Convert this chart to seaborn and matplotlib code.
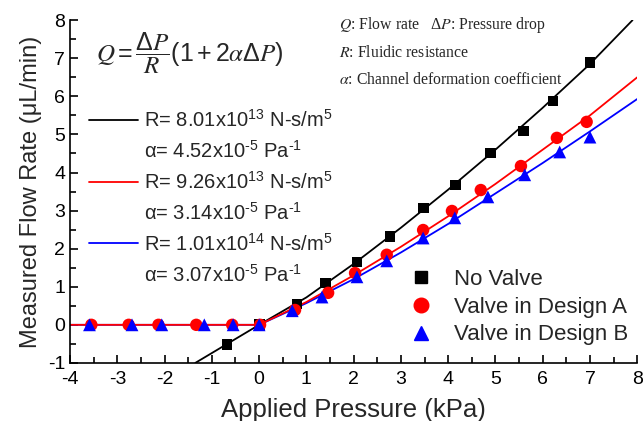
import numpy as np
import pandas as pd
import matplotlib
matplotlib.use("Agg")
import matplotlib.pyplot as plt
import seaborn as sns
from matplotlib.lines import Line2D
from matplotlib.ticker import MultipleLocator

# measured points (kPa, uL/min)
black_x = [-0.68, 0, 0.8, 1.4, 2.07, 2.77, 3.47, 4.16, 4.9, 5.6, 6.22, 7.0]
black_y = [-0.52, 0, 0.55, 1.1, 1.65, 2.31, 3.07, 3.67, 4.51, 5.09, 5.88, 6.88]
red_x = [-3.55, -2.76, -2.13, -1.33, -0.57, 0.02, 0.76, 1.46, 2.03, 2.70, 3.47, 4.08, 4.69, 5.54, 6.30, 6.93]
red_y = [0, 0, 0, 0, 0, 0, 0.39, 0.84, 1.36, 1.84, 2.49, 2.99, 3.54, 4.17, 4.91, 5.33]
blue_x = [-3.59, -2.69, -2.06, -1.16, -0.55, 0, 0.70, 1.33, 2.07, 2.70, 3.47, 4.14, 4.84, 5.62, 6.36, 7.0]
blue_y = [0, 0, 0, 0, 0, 0, 0.37, 0.73, 1.26, 1.68, 2.28, 2.81, 3.36, 3.94, 4.54, 4.93]

# fitted curves
fit_black_x = [-1.35, 0, 1, 2, 3, 4, 5, 6, 7, 7.9]
fit_black_y = [-1.0, 0, 0.72, 1.6, 2.55, 3.55, 4.6, 5.7, 6.85, 8.0]
fit_x = [-4, 0, 1, 2, 3, 4, 5, 6, 7, 8]
fit_red_y = [0, 0, 0.6, 1.3, 2.05, 2.85, 3.7, 4.6, 5.5, 6.5]
fit_blue_y = [0, 0, 0.57, 1.2, 1.9, 2.65, 3.45, 4.25, 5.08, 5.93]

series_names = ["No Valve", "Valve in Design A", "Valve in Design B"]
fit_labels = [
    ("R= 8.01x10$^{13}$ N-s/m$^{5}$", "\u03b1= 4.52x10$^{\u2010 5}$ Pa$^{\u2010 1}$"),
    ("R= 9.26x10$^{13}$ N-s/m$^{5}$", "\u03b1= 3.14x10$^{\u2010 5}$ Pa$^{\u2010 1}$"),
    ("R= 1.01x10$^{14}$ N-s/m$^{5}$", "\u03b1= 3.07x10$^{\u2010 5}$ Pa$^{\u2010 1}$"),
]

sns.set_theme(style="ticks")
plt.rcParams["font.family"] = ["Liberation Sans", "DejaVu Sans"]
plt.rcParams["mathtext.fontset"] = "stix"
plt.rcParams["mathtext.default"] = "regular"
plt.rcParams["axes.unicode_minus"] = False

fig = plt.figure(figsize=(6.43, 4.21), dpi=100)
ax = fig.add_axes([0.109, 0.138, 0.882, 0.814])

colors = ["black", "#ff0000", "#0000ff"]

# fit lines
sns.lineplot(x=fit_black_x, y=fit_black_y, color=colors[0], lw=1.3, ax=ax, sort=False)
sns.lineplot(x=fit_x, y=fit_blue_y, color=colors[2], lw=1.3, ax=ax, sort=False)
sns.lineplot(x=fit_x, y=fit_red_y, color=colors[1], lw=1.3, ax=ax, sort=False)

# measured points
pts = pd.concat([
    pd.DataFrame({"x": black_x, "y": black_y, "s": series_names[0]}),
    pd.DataFrame({"x": red_x, "y": red_y, "s": series_names[1]}),
    pd.DataFrame({"x": blue_x, "y": blue_y, "s": series_names[2]}),
])
markers = {"No Valve": "s", "Valve in Design A": "o", "Valve in Design B": "^"}
sizes = {"No Valve": 60, "Valve in Design A": 80, "Valve in Design B": 85}
for name, c in zip(series_names, colors):
    d = pts[pts["s"] == name]
    sns.scatterplot(data=d, x="x", y="y", color=c, marker=markers[name],
                    s=sizes[name], edgecolor="none", ax=ax, zorder=3)

ax.set_xlim(-4, 8)
ax.set_ylim(-1, 8)
ax.xaxis.set_major_locator(MultipleLocator(1))
ax.xaxis.set_minor_locator(MultipleLocator(0.5))
ax.yaxis.set_major_locator(MultipleLocator(1))
ax.yaxis.set_minor_locator(MultipleLocator(0.5))
ax.tick_params(which="both", direction="in", width=1.2, colors="black", labelsize=14)
ax.tick_params(which="major", length=6)
ax.tick_params(which="minor", length=4)
ax.tick_params(axis="x", pad=6)
for sp in ["top", "right"]:
    ax.spines[sp].set_visible(False)
for sp in ["left", "bottom"]:
    ax.spines[sp].set_linewidth(1.2)
    ax.spines[sp].set_color("black")

ax.set_xlabel("Applied Pressure (kPa)", fontsize=18.5, labelpad=7)
ax.set_ylabel("Measured Flow Rate (\u03bcL/min)", fontsize=17, labelpad=4)

# legend for markers
mk_handles = [Line2D([], [], ls="none", marker=markers[n], color=c,
                     markersize=9 if n == "No Valve" else 10.5)
              for n, c in zip(series_names, colors)]
leg1 = ax.legend(mk_handles, series_names, loc="lower right", bbox_to_anchor=(1.0, 0.025),
                 frameon=False, fontsize=16, handletextpad=0.5, labelspacing=0.3,
                 borderaxespad=0)
ax.add_artist(leg1)

# legend for fits
fit_handles, fit_texts = [], []
for c, (l1, l2) in zip(colors, fit_labels):
    fit_handles += [Line2D([], [], color=c, lw=1.3), Line2D([], [], color="none")]
    fit_texts += [l1, l2]
ax.legend(fit_handles, fit_texts, loc="upper left", bbox_to_anchor=(0.02, 0.765),
          frameon=False, fontsize=14.5, handlelength=2.4, handletextpad=0.3,
          labelspacing=0.45, borderaxespad=0)

# equation and definitions
ax.text(0.045, 0.905, r"$\mathit{Q}=\dfrac{\Delta \mathit{P}}{\mathit{R}}(1+2\mathit{\alpha}\Delta \mathit{P})$",
        transform=ax.transAxes, fontsize=18, va="center", ha="left")
serif = ["Liberation Serif", "DejaVu Serif"]
ax.text(0.475, 0.985, r"$\mathit{Q}$: Flow rate   $\Delta\mathit{P}$: Pressure drop",
        transform=ax.transAxes, fontsize=11.3, family=serif, va="center")
ax.text(0.475, 0.905, r"$\mathit{R}$: Fluidic resistance",
        transform=ax.transAxes, fontsize=11.3, family=serif, va="center")
ax.text(0.475, 0.825, r"$\mathit{\alpha}$: Channel deformation coefficient",
        transform=ax.transAxes, fontsize=11.3, family=serif, va="center")

fig.savefig("out.png", dpi=100)
